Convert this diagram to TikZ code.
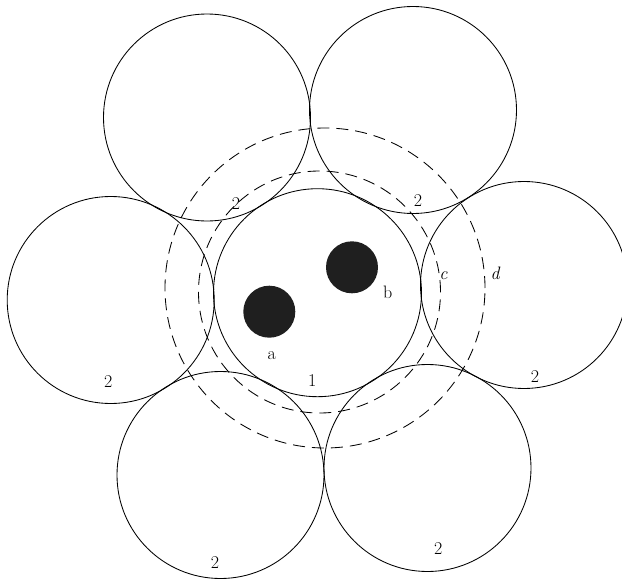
\documentclass[tikz,border=0pt]{standalone}
\begin{document}
\begin{tikzpicture}[x=1pt,y=-1pt,
  disk/.style={circle,draw,line width=0.85pt,inner sep=0pt,minimum size=207pt},
  ring/.style={circle,draw,line width=0.85pt,inner sep=0pt,dash pattern=on 12pt off 7pt},
  hole/.style={circle,fill=black!88,inner sep=0pt,minimum size=52pt},
  lab/.style={anchor=base,inner sep=0pt,font=\fontsize{18}{20}\selectfont}]
\useasboundingbox (0,0) rectangle (622,581);
% dashed circles
\node[ring,minimum size=320pt] (d) at (325,288) {};
\node[ring,minimum size=242pt] (c) at (319.5,292) {};
% central and outer strands
\node[disk,minimum size=208pt] (s1) at (317.5,292.7) {};
\node[disk] (s2r) at (524,285) {};
\node[disk] (s2tr) at (413,110) {};
\node[disk] (s2tl) at (207,117.5) {};
\node[disk] (s2l) at (110.7,300) {};
\node[disk] (s2bl) at (220.5,475) {};
\node[disk] (s2br) at (427.5,468) {};
% holes
\node[hole] (a) at (269.3,311.7) {};
\node[hole] (b) at (352,267.3) {};
% labels
\node[lab] (la) at (271.7,359) {a};
\node[lab] (lb) at (387.7,298.3) {b};
\node[lab] (lc) at (443.5,279.3) {\itshape c};
\node[lab] (ld) at (495,279.3) {\itshape d};
\node[lab] (l1) at (312.3,386.7) {1};
\node[lab] (l2tl) at (236,209.3) {2};
\node[lab] (l2tr) at (418,206) {2};
\node[lab] (l2l) at (108.3,387.3) {2};
\node[lab] (l2r) at (535,382) {2};
\node[lab] (l2bl) at (215,568.3) {2};
\node[lab] (l2br) at (438.3,554) {2};
\end{tikzpicture}
\end{document}
